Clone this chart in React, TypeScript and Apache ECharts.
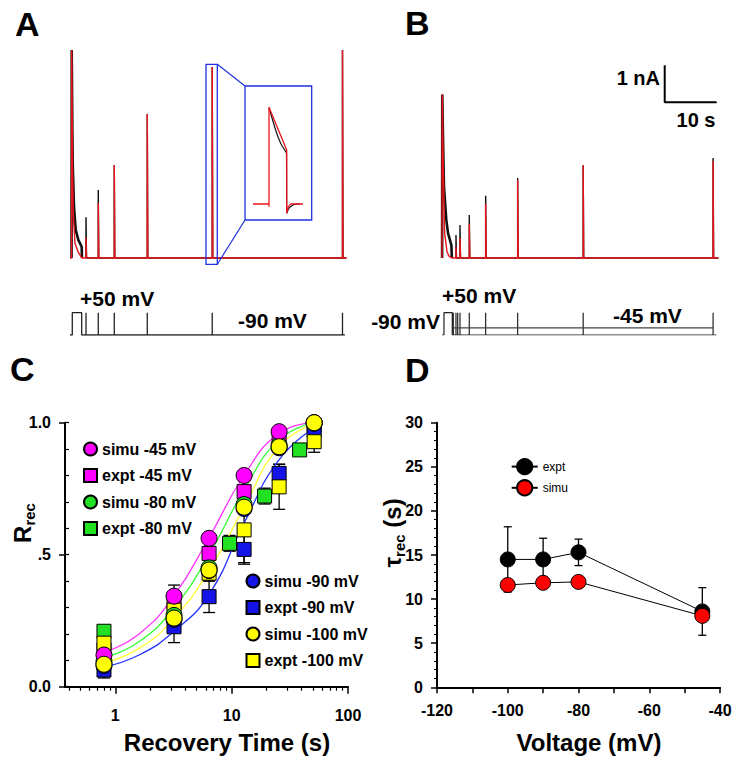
import React, { useEffect, useRef } from "react";
import * as echarts from "echarts";

const FONT = 'Arial, "Liberation Sans", Helvetica, sans-serif';

// ---------- Panel A (time s, current nA) ----------
const aRedTransient = [[0, 0], [0.3, 0], [0.33, 5.62], [0.5, 2.4], [0.63, 1.2], [0.96, 0.4], [1.54, 0.17], [2.06, 0.05], [2.3, 0]];
const aBlackTransient = [[0.3, 0], [0.33, 5.62], [0.45, 3.5], [0.52, 2.57], [0.77, 1.38], [1.1, 0.76], [1.6, 0.49], [2.25, 0.3], [2.3, 0]];
const aSpikeTimes = [3.08, 5.44, 8.52, 14.87, 27.37, 52.44];
const aSpikeRed = [0.55, 1.49, 2.51, 3.89, 5.16, 5.62];
const aSpikeBlack = [1.1, 1.84, 2.51, 3.89, 5.16, 5.62];
const aEnd = 53.2;
const aPrepulse = [0.44, 2.25];
const aProtoTicks = [3.08, 5.44, 8.52, 14.87, 27.37, 52.44];
const aProtoEnd = 52.9;

// inset (arbitrary units)
const insetRed = [[0, 0], [16, 0], [16, -2.7], [16, 96.7], [33.7, 54], [33.7, -9.3], [35, -4], [36.5, -1], [38, 0], [50, 0]];
const insetBlack = [[16, 96.7], [19, 86], [22, 76], [25, 67], [28, 60], [33.5, 51], [33.7, -9.3], [35, -6], [37, -3], [40, -1], [44, 0], [47, 0]];

// ---------- Panel B ----------
const bRedTransient = [[0, 0], [0.02, 0], [0.05, 4.42], [0.25, 2.47], [0.5, 0.68], [0.96, 0.17], [1.35, 0.05], [1.9, 0]];
const bBlackTransient = [[0.02, 0], [0.05, 4.42], [0.2, 3.2], [0.38, 1.93], [0.83, 1.03], [1.15, 0.68], [1.8, 0.35], [1.9, 0]];
const bSpikeTimes = [2.69, 3.46, 5.25, 8.4, 14.56, 27.17, 52.17];
const bSpikeRed = [0.3, 0.54, 0.92, 1.46, 2.1, 2.51, 2.62];
const bSpikeBlack = [0.62, 0.89, 1.16, 1.68, 2.16, 2.51, 2.7];
const bEnd = 53.2;
const bPrepulse = [0.38, 1.98];
const bProtoTicks = [2.17, 2.69, 3.02, 3.46, 5.25, 8.4, 14.56, 27.17, 52.17];
const bProtoEnd = 52.8;
const bHoldStart = 2.17;
const scaleBarCorner = [42.86, 4.21];
const scaleBarNA = 1;
const scaleBarS = 10;

// ---------- Panel C ----------
const recTimes = [0.8, 3.2, 6.4, 12.8, 25.6, 51.2];
const simu45 = [0.12, 0.343, 0.562, 0.8, 0.966, 1.0];
const simu80 = [0.095, 0.27, 0.45, 0.69, 0.915, 1.0];
const simu90 = [0.08, 0.255, 0.44, 0.675, 0.905, 0.998];
const simu100 = [0.085, 0.26, 0.442, 0.68, 0.909, 1.0];
const expt45 = [0.14, 0.32, 0.505, 0.739, 0.95, 0.99];
const err45 = [0.03, 0.065, 0.05, 0.04, 0.03, 0.02];
const expt80Times = [0.8, 9.6, 19.2, 38.4];
const expt80 = [0.21, 0.543, 0.722, 0.897];
const err80 = [0.02, 0.03, 0.03, 0.02];
const expt90 = [0.063, 0.227, 0.341, 0.52, 0.808, 0.97];
const err90 = [0.03, 0.06, 0.06, 0.05, 0.035, 0.03];
const expt100 = [0.165, 0.29, 0.43, 0.594, 0.757, 0.928];
const err100 = [0.03, 0.05, 0.03, 0.13, 0.085, 0.04];
const curveTimes = [0.8, 1.6, 3.2, 6.4, 12.8, 25.6, 51.2];
const curve45 = [0.13, 0.2, 0.345, 0.565, 0.8, 0.96, 1.0];
const curve80 = [0.11, 0.17, 0.3, 0.5, 0.745, 0.935, 1.0];
const curve100 = [0.09, 0.145, 0.26, 0.44, 0.68, 0.91, 0.995];
const curve90 = [0.075, 0.12, 0.21, 0.35, 0.62, 0.86, 0.98];
const cMajorTicks = [1, 10, 100];
const cMinorTicks = [0.4, 0.5, 0.6, 0.7, 0.8, 0.9, 2, 3, 4, 5, 6, 7, 8, 9, 20, 30, 40, 50, 60, 70, 80, 90];

// ---------- Panel D ----------
const voltages = [-100, -90, -80, -45];
const exptTau = [14.5, 14.5, 15.3, 8.6];
const exptTauErr = [3.7, 2.4, 1.5, 2.7];
const simuTau = [11.6, 11.85, 11.95, 8.1];

const C_MAG = "#ff00ff";
const C_GRN = "#22e022";
const C_BLU = "#1414e6";
const C_YEL = "#ffff00";
const C_RED = "#e8141b";

function buildTrace(transient: number[][], times: number[], heights: number[], end: number) {
  const pts: number[][] = transient.map((p) => [p[0], p[1]]);
  times.forEach((t, i) => {
    pts.push([t, 0], [t, heights[i]], [t + 0.1, 0]);
  });
  pts.push([end, 0]);
  return pts;
}

function buildProtocol(pre: number[], ticks: number[], end: number) {
  const pts: number[][] = [[0, -90], [pre[0], -90], [pre[0], 50], [pre[1], 50], [pre[1], -90]];
  ticks.forEach((t) => pts.push([t, -90], [t, 50], [t, -90]));
  pts.push([end, -90]);
  return pts;
}

const zip = (xs: number[], ys: number[]) => xs.map((x, i) => [x, ys[i]]);
const errData = (xs: number[], ys: number[], es: number[]) => xs.map((x, i) => [x, ys[i] - es[i], ys[i] + es[i]]);

const errRender = (cap: number) => (params: any, api: any) => {
  const x = api.value(0);
  const a = api.coord([x, api.value(1)]);
  const b = api.coord([x, api.value(2)]);
  const st = { stroke: "#000", lineWidth: 1.3 };
  return {
    type: "group",
    children: [
      { type: "line", shape: { x1: a[0], y1: a[1], x2: b[0], y2: b[1] }, style: st },
      { type: "line", shape: { x1: a[0] - cap, y1: a[1], x2: a[0] + cap, y2: a[1] }, style: st },
      { type: "line", shape: { x1: b[0] - cap, y1: b[1], x2: b[0] + cap, y2: b[1] }, style: st },
    ],
  };
};

const tickLabel = { fontFamily: FONT, fontWeight: "bold" as const, fontSize: 16, color: "#000" };
const axLine = { show: true, onZero: false, lineStyle: { color: "#000", width: 2 } };
const tickStyle = { color: "#000", width: 1.5 };

const hiddenAxis = (gridIndex: number, min: number, max: number) => ({ type: "value", gridIndex, min, max, show: false });

const txt = (x: number, y: number, text: string, size: number, align = "left", weight = "bold") => ({
  type: "text",
  x,
  y,
  style: { text, fontFamily: FONT, fontWeight: weight, fontSize: size, fill: "#000", align, verticalAlign: "middle" },
});

export default function App() {
  const ref = useRef<HTMLDivElement>(null);
  useEffect(() => {
    if (!ref.current) return;
    const chart = echarts.init(ref.current, undefined, { renderer: "svg" });
    const scatter = (name: string, data: number[][], symbol: string, color: string, size: number, z: number) => ({
      name,
      type: "scatter",
      xAxisIndex: 5,
      yAxisIndex: 5,
      data,
      symbol,
      symbolSize: size,
      z,
      itemStyle: { color, borderColor: "#000", borderWidth: 1, opacity: 1 },
    });
    const curve = (data: number[][], color: string) => ({
      type: "line",
      xAxisIndex: 5,
      yAxisIndex: 5,
      data,
      smooth: 0.5,
      symbol: "none",
      z: 2,
      lineStyle: { color, width: 1.3 },
    });
    const legendText = { fontFamily: FONT, fontWeight: "bold" as const, fontSize: 16, color: "#000" };

    const option: any = {
      animation: false,
      backgroundColor: "#fff",
      grid: [
        { left: 70, top: 36, width: 278, height: 229.4, outerBoundsMode: "none" },
        { left: 253, top: 104, width: 50, height: 112, outerBoundsMode: "none" },
        { left: 70, top: 312.7, width: 278, height: 22.3, outerBoundsMode: "none" },
        { left: 442, top: 36, width: 278, height: 229.4, outerBoundsMode: "none" },
        { left: 442, top: 312.7, width: 278, height: 22.3, outerBoundsMode: "none" },
        { left: 65, top: 422.7, width: 283, height: 264, outerBoundsMode: "none" },
        { left: 437, top: 422.7, width: 283, height: 264.6, outerBoundsMode: "none" },
      ],
      xAxis: [
        hiddenAxis(0, 0, 53.5),
        hiddenAxis(1, 0, 50),
        hiddenAxis(2, 0, 53.5),
        hiddenAxis(3, 0, 53.5),
        hiddenAxis(4, 0, 53.5),
        {
          type: "log",
          gridIndex: 5,
          position: "bottom",
          min: 0.37,
          max: 100,
          logBase: 10,
          axisLine: axLine,
          axisTick: { show: true, customValues: cMajorTicks, length: 7, lineStyle: tickStyle },
          axisLabel: { ...tickLabel, customValues: cMajorTicks, margin: 21, formatter: (v: number) => String(v) },
          splitLine: { show: false },
          minorTick: { show: false },
        },
        {
          type: "log",
          gridIndex: 5,
          position: "bottom",
          min: 0.37,
          max: 100,
          logBase: 10,
          axisLine: { show: false },
          axisTick: { show: true, customValues: cMinorTicks, length: 4, lineStyle: { color: "#000", width: 1.2 } },
          axisLabel: { show: false },
          splitLine: { show: false },
        },
        {
          type: "value",
          gridIndex: 6,
          position: "bottom",
          min: -120,
          max: -40,
          interval: 10,
          axisLine: axLine,
          axisTick: { show: true, length: 6, lineStyle: tickStyle },
          axisLabel: { ...tickLabel, margin: 15, formatter: (v: number) => (v % 20 === 0 ? String(v) : "") },
          splitLine: { show: false },
        },
      ],
      yAxis: [
        hiddenAxis(0, -0.2, 6),
        hiddenAxis(1, -12, 100),
        hiddenAxis(2, -90, 50),
        hiddenAxis(3, -0.2, 6),
        hiddenAxis(4, -90, 50),
        {
          type: "value",
          gridIndex: 5,
          position: "left",
          min: 0,
          max: 1,
          interval: 0.5,
          axisLine: axLine,
          axisTick: { show: true, length: 6, lineStyle: tickStyle },
          axisLabel: { ...tickLabel, margin: 14, formatter: (v: number) => (v === 0 ? "0.0" : v === 1 ? "1.0" : ".5") },
          splitLine: { show: false },
        },
        {
          type: "value",
          gridIndex: 5,
          position: "left",
          min: 0,
          max: 1,
          interval: 0.1,
          axisLine: { show: false },
          axisTick: { show: true, inside: true, length: 4, lineStyle: { color: "#000", width: 1.2 } },
          axisLabel: { show: false },
          splitLine: { show: false },
        },
        {
          type: "value",
          gridIndex: 6,
          position: "left",
          min: 0,
          max: 30,
          interval: 5,
          axisLine: axLine,
          axisTick: { show: true, length: 6, lineStyle: tickStyle },
          minorTick: { show: true, splitNumber: 5, length: 3, lineStyle: { color: "#000", width: 1 } },
          axisLabel: { ...tickLabel, margin: 14 },
          splitLine: { show: false },
        },
      ],
      legend: [
        {
          left: 78,
          top: 436,
          orient: "vertical",
          itemWidth: 13,
          itemHeight: 13,
          itemGap: 10.5,
          selectedMode: false,
          textStyle: legendText,
          data: [
            { name: "simu -45 mV", icon: "circle" },
            { name: "expt -45 mV", icon: "rect" },
            { name: "simu -80 mV", icon: "circle" },
            { name: "expt -80 mV", icon: "rect" },
          ],
        },
        {
          left: 240.5,
          top: 568,
          orient: "vertical",
          itemWidth: 13,
          itemHeight: 13,
          itemGap: 10.5,
          selectedMode: false,
          textStyle: legendText,
          data: [
            { name: "simu -90 mV", icon: "circle" },
            { name: "expt -90 mV", icon: "rect" },
            { name: "simu -100 mV", icon: "circle" },
            { name: "expt -100 mV", icon: "rect" },
          ],
        },
        {
          left: 505.7,
          top: 453,
          orient: "vertical",
          itemWidth: 26,
          itemHeight: 19,
          itemGap: 4,
          selectedMode: false,
          textStyle: { fontFamily: FONT, fontSize: 12, color: "#000" },
          data: ["expt", "simu"],
        },
      ],
      series: [
        // Panel A traces
        { type: "line", xAxisIndex: 0, yAxisIndex: 0, symbol: "none", data: aBlackTransient, lineStyle: { color: "#111", width: 2.6 }, z: 1 },
        { type: "line", xAxisIndex: 0, yAxisIndex: 0, symbol: "none", data: buildTrace([], aSpikeTimes, aSpikeBlack, aEnd), lineStyle: { color: "#111", width: 1.4 }, z: 1 },
        { type: "line", xAxisIndex: 0, yAxisIndex: 0, symbol: "none", data: buildTrace(aRedTransient, aSpikeTimes, aSpikeRed, aEnd), lineStyle: { color: C_RED, width: 1.4 }, z: 2 },
        // inset
        { type: "line", xAxisIndex: 1, yAxisIndex: 1, symbol: "none", data: insetBlack, lineStyle: { color: "#111", width: 1.2 }, z: 1 },
        { type: "line", xAxisIndex: 1, yAxisIndex: 1, symbol: "none", data: insetRed, lineStyle: { color: C_RED, width: 1.3 }, z: 2 },
        // protocol A
        { type: "line", xAxisIndex: 2, yAxisIndex: 2, symbol: "none", data: buildProtocol(aPrepulse, aProtoTicks, aProtoEnd), lineStyle: { color: "#222", width: 1.3 } },
        // Panel B traces
        { type: "line", xAxisIndex: 3, yAxisIndex: 3, symbol: "none", data: bBlackTransient, lineStyle: { color: "#111", width: 2.6 }, z: 1 },
        { type: "line", xAxisIndex: 3, yAxisIndex: 3, symbol: "none", data: buildTrace([], bSpikeTimes, bSpikeBlack, bEnd), lineStyle: { color: "#111", width: 1.4 }, z: 1 },
        { type: "line", xAxisIndex: 3, yAxisIndex: 3, symbol: "none", data: buildTrace(bRedTransient, bSpikeTimes, bSpikeRed, bEnd), lineStyle: { color: C_RED, width: 1.4 }, z: 2 },
        {
          type: "line",
          xAxisIndex: 3,
          yAxisIndex: 3,
          symbol: "none",
          data: [
            [scaleBarCorner[0], scaleBarCorner[1] + scaleBarNA],
            [scaleBarCorner[0], scaleBarCorner[1]],
            [scaleBarCorner[0] + scaleBarS, scaleBarCorner[1]],
          ],
          lineStyle: { color: "#000", width: 2 },
        },
        // protocol B
        { type: "line", xAxisIndex: 4, yAxisIndex: 4, symbol: "none", data: buildProtocol(bPrepulse, bProtoTicks, bProtoEnd), lineStyle: { color: "#222", width: 1.2 } },
        { type: "line", xAxisIndex: 4, yAxisIndex: 4, symbol: "none", data: [[bHoldStart, -45], [bProtoTicks[bProtoTicks.length - 1], -45]], lineStyle: { color: "#444", width: 1.2 } },
        // Panel C
        {
          type: "custom",
          xAxisIndex: 5,
          yAxisIndex: 5,
          renderItem: errRender(6),
          encode: { x: 0, y: [1, 2] },
          z: 1,
          data: [
            ...errData(recTimes, expt45, err45),
            ...errData(expt80Times, expt80, err80),
            ...errData(recTimes, expt90, err90),
            ...errData(recTimes, expt100, err100),
          ],
        },
        curve(zip(curveTimes, curve90), "#2233ff"),
        curve(zip(curveTimes, curve100), "#ffff33"),
        curve(zip(curveTimes, curve80), "#33ff33"),
        curve(zip(curveTimes, curve45), "#ff33ff"),
        scatter("expt -80 mV", zip(expt80Times, expt80), "rect", C_GRN, 14, 3),
        scatter("expt -45 mV", zip(recTimes, expt45), "rect", C_MAG, 14, 3),
        scatter("expt -90 mV", zip(recTimes, expt90), "rect", C_BLU, 14, 3),
        scatter("expt -100 mV", zip(recTimes, expt100), "rect", C_YEL, 14, 3),
        scatter("simu -90 mV", zip(recTimes, simu90), "circle", C_BLU, 16, 4),
        scatter("simu -80 mV", zip(recTimes, simu80), "circle", C_GRN, 16, 4),
        scatter("simu -45 mV", zip(recTimes, simu45), "circle", C_MAG, 16, 4),
        scatter("simu -100 mV", zip(recTimes, simu100), "circle", C_YEL, 16, 4),
        // Panel D
        {
          type: "custom",
          xAxisIndex: 7,
          yAxisIndex: 7,
          renderItem: errRender(4),
          encode: { x: 0, y: [1, 2] },
          z: 1,
          data: errData(voltages, exptTau, exptTauErr),
        },
        {
          name: "expt",
          type: "line",
          xAxisIndex: 7,
          yAxisIndex: 7,
          data: zip(voltages, exptTau),
          symbol: "circle",
          symbolSize: 15,
          z: 3,
          lineStyle: { color: "#000", width: 1 },
          itemStyle: { color: "#000", borderColor: "#000", borderWidth: 1 },
        },
        {
          name: "simu",
          type: "line",
          xAxisIndex: 7,
          yAxisIndex: 7,
          data: zip(voltages, simuTau),
          symbol: "circle",
          symbolSize: 15,
          z: 4,
          lineStyle: { color: "#000", width: 1 },
          itemStyle: { color: "#ff0000", borderColor: "#000", borderWidth: 1 },
        },
      ],
      graphic: [
        txt(15, 24, "A", 34),
        txt(405, 23, "B", 34),
        txt(10, 369, "C", 34),
        txt(405, 370, "D", 34),
        txt(80, 298, "+50 mV", 21),
        txt(238, 320, "-90 mV", 21),
        txt(442, 295, "+50 mV", 21),
        txt(440, 321.5, "-90 mV", 21, "right"),
        txt(613, 315, "-45 mV", 21),
        txt(660, 77.5, "1 nA", 20, "right"),
        txt(696, 120, "10 s", 20, "center"),
        txt(227, 742, "Recovery Time (s)", 24, "center"),
        txt(589, 742, "Voltage (mV)", 24, "center"),
        {
          type: "text",
          x: 22,
          y: 523,
          rotation: Math.PI / 2,
          style: {
            text: "{a|R}{b|rec}",
            align: "center",
            verticalAlign: "middle",
            fill: "#000",
            rich: {
              a: { fontFamily: FONT, fontWeight: "bold", fontSize: 24, lineHeight: 30, fill: "#000" },
              b: { fontFamily: FONT, fontWeight: "bold", fontSize: 15, lineHeight: 15, verticalAlign: "bottom", fill: "#000" },
            },
          },
        },
        {
          type: "text",
          x: 392,
          y: 533,
          rotation: Math.PI / 2,
          style: {
            text: "{a|τ}{b|rec}{a| (s)}",
            align: "center",
            verticalAlign: "middle",
            fill: "#000",
            rich: {
              a: { fontFamily: FONT, fontWeight: "bold", fontSize: 24, lineHeight: 30, fill: "#000" },
              b: { fontFamily: FONT, fontWeight: "bold", fontSize: 15, lineHeight: 15, verticalAlign: "bottom", fill: "#000" },
            },
          },
        },
        { type: "rect", shape: { x: 206, y: 64.3, width: 11.3, height: 200 }, style: { fill: "none", stroke: "#2030e0", lineWidth: 1.3 }, z: 10 },
        { type: "rect", shape: { x: 245, y: 86, width: 66.7, height: 134 }, style: { fill: "none", stroke: "#2030e0", lineWidth: 1.3 }, z: 10 },
        { type: "line", shape: { x1: 217.3, y1: 64.3, x2: 245, y2: 86 }, style: { stroke: "#2030e0", lineWidth: 1.2 }, z: 10 },
        { type: "line", shape: { x1: 217.3, y1: 264.3, x2: 245, y2: 220 }, style: { stroke: "#2030e0", lineWidth: 1.2 }, z: 10 },
      ],
    };
    chart.setOption(option);
    return () => chart.dispose();
  }, []);
  return <div ref={ref} style={{ position: "fixed", left: 0, top: 0, width: 736, height: 761, background: "#fff" }} />;
}
